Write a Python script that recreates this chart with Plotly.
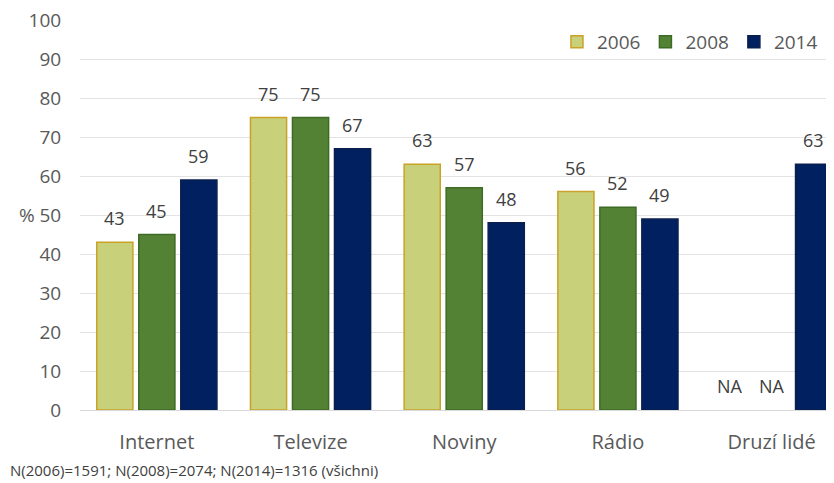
import plotly.graph_objects as go

categories = ["Internet", "Televize", "Noviny", "Rádio", "Druzí lidé"]
years = ["2006", "2008", "2014"]
v2006 = [43, 75, 63, 56, None]
v2008 = [45, 75, 57, 52, None]
v2014 = [59, 67, 48, 49, 63]
y_ticks = list(range(0, 101, 10))
footer = "N(2006)=1591; N(2008)=2074; N(2014)=1316 (všichni)"

fills = ["#C9D07A", "#548235", "#002060"]
borders = ["#C9A227", "#3D6B26", "#0B1F4F"]

BARGAP = 0.18
slot = (1 - BARGAP) / 3

fig = go.Figure()
annotations = []
for k, (name, vals, fc, bc) in enumerate(zip(years, [v2006, v2008, v2014], fills, borders)):
    yv = [v if v is not None else 0 for v in vals]
    lw = [1.5 if v is not None else 0 for v in vals]
    fig.add_trace(go.Bar(
        x=categories, y=yv, name=name,
        marker=dict(color=fc, line=dict(color=bc, width=lw)),
    ))
    for i, v in enumerate(vals):
        annotations.append(dict(
            x=i + (k - 1) * slot, y=(v if v is not None else 0), xref="x", yref="y",
            text=(str(v) if v is not None else "NA"), showarrow=False,
            yanchor="middle", yshift=24,
            font=dict(size=18, color="#404040", family="Open Sans"),
        ))

annotations += [
    dict(text="%", xref="paper", yref="y", x=-0.083, y=50, xanchor="left",
         showarrow=False, font=dict(size=19, color="#595959")),
    dict(text=footer, xref="paper", yref="paper", x=-0.094, y=-0.154, xanchor="left",
         yanchor="middle", showarrow=False, font=dict(size=15, color="#404040")),
]

fig.update_layout(
    width=834, height=483,
    margin=dict(l=72, r=0, t=12, b=81),
    plot_bgcolor="white", paper_bgcolor="white",
    barmode="group", bargap=BARGAP, bargroupgap=0.14,
    font=dict(family="Open Sans", color="#595959", size=18),
    showlegend=True,
    legend=dict(orientation="h", x=0.975, xanchor="right", y=0.944, yanchor="middle",
                font=dict(size=19, color="#595959"), bgcolor="rgba(0,0,0,0)",
                traceorder="normal"),
    xaxis=dict(range=[-0.5, 4.458], tickfont=dict(size=20, color="#595959"),
               showgrid=False, showline=False, ticks="outside", ticklen=14,
               tickcolor="rgba(0,0,0,0)", automargin=False),
    yaxis=dict(range=[0, 100], tickvals=y_ticks, tickfont=dict(size=19, color="#595959"),
               showgrid=True, gridcolor="#E3E3E3", gridwidth=1,
               zeroline=True, zerolinecolor="#D9D9D9", zerolinewidth=1,
               ticks="outside", ticklen=14, tickcolor="rgba(0,0,0,0)", showline=False,
               automargin=False, ticklabeloverflow="allow"),
    annotations=annotations,
)
fig.write_html("out.html")
